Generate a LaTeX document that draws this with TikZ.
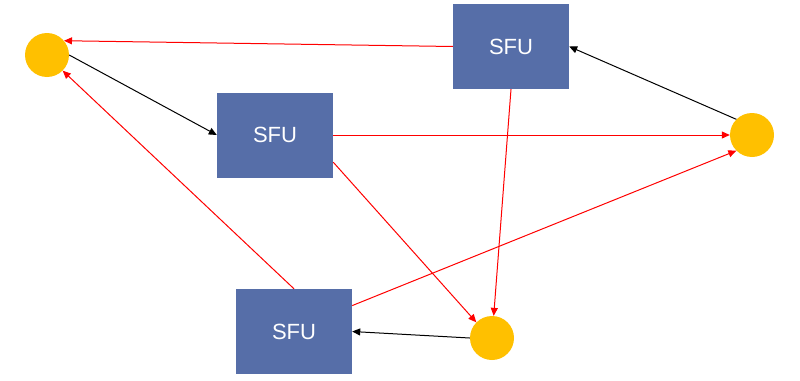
\documentclass[tikz,border=0pt]{standalone}
\usepackage{fontspec}
\setmainfont{Liberation Sans}
\usetikzlibrary{arrows.meta}
\definecolor{sfuBlue}{HTML}{566EA8}
\definecolor{userGold}{HTML}{FFC000}
\definecolor{mediaRed}{HTML}{FF0000}
\definecolor{signalInk}{HTML}{000000}
\tikzset{
  every node/.style={font=\fontsize{22}{26}\selectfont},
  sfubox/.style={
    rectangle,
    fill=sfuBlue,
    text=white,
    minimum width=116pt,
    minimum height=85pt,
    inner sep=0pt
  },
  peer/.style={
    circle,
    fill=userGold,
    minimum size=44pt,
    inner sep=0pt
  },
  media/.style={
    -{Triangle[length=8pt,width=7pt]},
    line width=1pt,
    draw=mediaRed
  },
  signal/.style={
    -{Triangle[length=8pt,width=7pt]},
    line width=1pt,
    draw=signalInk
  }
}

\begin{document}
\begin{tikzpicture}[x=1pt, y=-1pt]
  \useasboundingbox (0,0) rectangle (800,380);

  \node[sfubox] (sfuTop) at (511,46.5) {SFU};
  \node[sfubox] (sfuMid) at (275,135) {SFU};
  \node[sfubox] (sfuBot) at (294,331.5) {SFU};

  \node[peer] (userA) at (47,55) {};
  \node[peer] (userB) at (752,135) {};
  \node[peer] (userC) at (492,338) {};

  % uplinks
  \draw[signal] (userA.east) -- (sfuMid.west);
  \draw[signal] (userB.135) -- (sfuTop.east);
  \draw[signal] (userC.west) -- (sfuBot.east);

  % forwarded streams
  \draw[media] (sfuTop.west) -- (userA.40);
  \draw[media] (sfuTop.south) -- (userC);
  \draw[media] (sfuMid.east) -- (userB.west);
  \draw[media] (sfuMid.-25) -- (userC.135);
  \draw[media] (sfuBot.24) -- (userB.225);
  \draw[media] (sfuBot.north) -- (userA.-45);
\end{tikzpicture}
\end{document}
